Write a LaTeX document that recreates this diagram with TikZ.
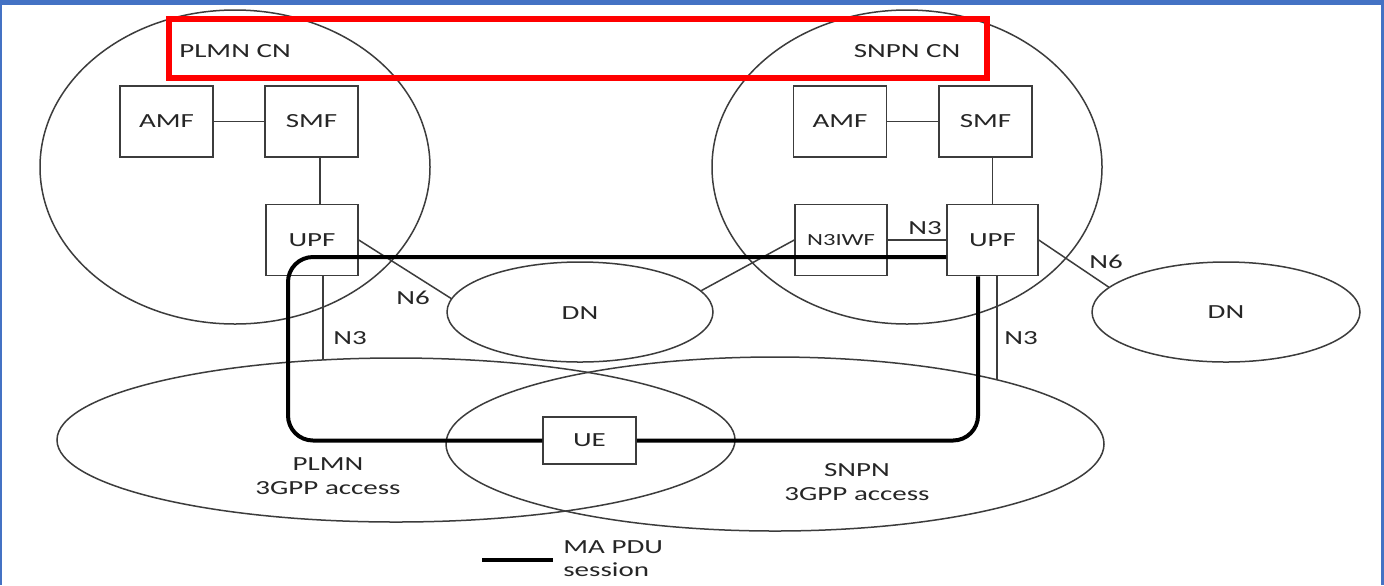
\documentclass[tikz,border=0pt]{standalone}
\usepackage{fontspec}
\setmainfont{Carlito}[FakeStretch=1.45]
\usetikzlibrary{shapes.geometric,calc}
\definecolor{frameblue}{RGB}{68,114,196}
\definecolor{ink}{RGB}{60,60,60}
\definecolor{txt}{RGB}{38,38,38}
\begin{document}
\begin{tikzpicture}[x=0.5pt,y=-0.5pt,
  nf/.style={draw=ink,line width=0.75pt,minimum width=46.5pt,minimum height=35.5pt,
             inner sep=0pt,font=\fontsize{10}{12}\selectfont,text=txt},
  area/.style={draw=ink,line width=0.75pt,ellipse,inner sep=0pt},
  link/.style={draw=ink,line width=0.75pt},
  lbl/.style={font=\fontsize{10}{12}\selectfont,text=txt,inner sep=0pt},
  mapdu/.style={draw=black,line width=2pt,rounded corners=12.5pt}
]
% canvas and frame
\useasboundingbox (0,0) rectangle (1384,585);
\fill[white] (0,0) rectangle (1384,585);
\fill[frameblue] (0,0) rectangle (1384,5);
\fill[frameblue] (0,0) rectangle (1.5,585);
\fill[frameblue] (1381,0) rectangle (1384,585);

% network areas
\node[area,minimum width=195pt,minimum height=157pt] (plmncn) at (235,167) {};
\node[area,minimum width=195pt,minimum height=157pt] (snpncn) at (907,167) {};
\node[area,minimum width=133pt,minimum height=50pt] (dn1) at (580,312) {};
\node[area,minimum width=134pt,minimum height=50pt] (dn2) at (1226,312) {};
\node[area,minimum width=339pt,minimum height=82pt] (plmnacc) at (396,440) {};
\node[area,minimum width=329pt,minimum height=87pt] (snpnacc) at (775,444) {};

\node[lbl] (dn1t) at (580,313) {DN};
\node[lbl] (dn2t) at (1226,312) {DN};
\node[lbl] (plmnCNt) at (235,51) {PLMN CN};
\node[lbl] (snpnCNt) at (907,51) {SNPN CN};
\node[lbl,align=center,font=\fontsize{10}{12}\selectfont] (plmnacct) at (328,476) {PLMN\\3GPP access};
\node[lbl,align=center,font=\fontsize{10}{12}\selectfont] (snpnacct) at (857,482) {SNPN\\3GPP access};

% network functions
\node[nf] (amf1) at (166.5,121.5) {AMF};
\node[nf] (smf1) at (311.5,121.5) {SMF};
\node[nf,minimum width=46pt] (upf1) at (312,240) {UPF};
\node[nf] (amf2) at (840,121.5) {AMF};
\node[nf] (smf2) at (985.5,121.5) {SMF};
\node[nf,minimum width=46pt,font=\fontsize{8.5}{10}\selectfont] (n3iwf) at (841,240) {N3IWF};
\node[nf,minimum width=45.5pt] (upf2) at (992.5,240) {UPF};
\node[nf,minimum height=23.5pt] (ue) at (589.5,440.5) {UE};

% control and user plane links
\draw[link] (amf1) -- (smf1);
\draw[link] (amf2) -- (smf2);
\coordinate (s1) at ($(upf1.north)+(8,0)$);
\draw[link] (s1) -- (s1 |- smf1.south);
\coordinate (s2) at ($(upf2.north)+(0,0)$);
\draw[link] (s2) -- (s2 |- smf2.south);
\draw[link] (n3iwf) -- (upf2);
\draw[link] (upf1.east) -- (dn1.174);
\draw[link] (n3iwf.west) -- (dn1.10);
\draw[link] (upf2.east) -- (dn2.168);
\coordinate (n3la) at ($(upf1.south)+(11,0)$);
\coordinate (n3lb) at (323,360);
\draw[link] (n3la) -- (n3lb);
\coordinate (n3ra) at ($(upf2.south)+(4.5,0)$);
\coordinate (n3rb) at (997,380);
\draw[link] (n3ra) -- (n3rb);

\node[lbl] (n3l) at (350,338) {N3};
\node[lbl] (n6l) at (413,298) {N6};
\node[lbl] (n3m) at (925,228) {N3};
\node[lbl] (n6r) at (1106,262) {N6};
\node[lbl] (n3r) at (1021,338) {N3};

% MA PDU session
\coordinate (m0) at ($(upf2.west)+(0,17)$);
\coordinate (m1) at (288,257);
\coordinate (m2) at (m1 |- ue.west);
\draw[mapdu] (m0) -- (m1) -- (m2) -- (ue.west);
\coordinate (m5) at ($(upf2.south)+(-14.5,0)$);
\coordinate (m4) at (m5 |- ue.east);
\draw[mapdu] (ue.east) -- (m4) -- (m5);

% legend
\coordinate (lg1) at (482,560);
\coordinate (lg2) at (553,560);
\draw[line width=2pt,black] (lg1) -- (lg2);
\node[lbl,anchor=west,align=left,font=\fontsize{10}{11.5}\selectfont] (lgt) at (563,559) {MA PDU\\session};

% highlight band over the core network titles
\draw[red,line width=3pt] (169,19) rectangle (987,78);
\end{tikzpicture}
\end{document}
